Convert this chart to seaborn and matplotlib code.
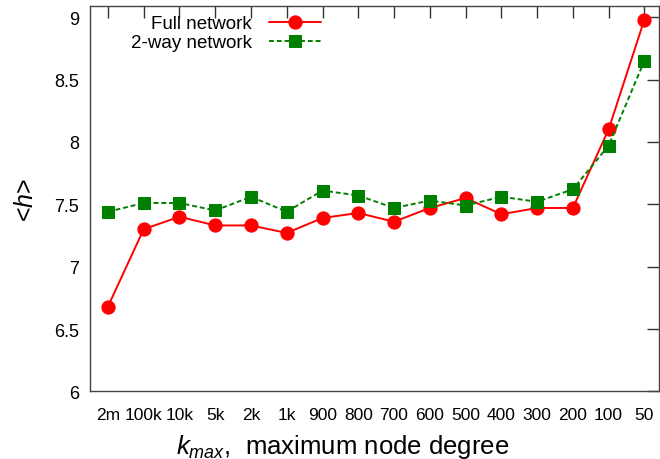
import matplotlib
matplotlib.use("Agg")
import matplotlib.pyplot as plt
import seaborn as sns
import pandas as pd
import numpy as np

categories = ["2m", "100k", "10k", "5k", "2k", "1k", "900", "800", "700",
              "600", "500", "400", "300", "200", "100", "50"]
full_network = [6.68, 7.30, 7.40, 7.33, 7.33, 7.27, 7.39, 7.43, 7.36,
                7.47, 7.55, 7.42, 7.47, 7.47, 8.10, 8.98]
two_way_network = [7.44, 7.51, 7.51, 7.45, 7.56, 7.44, 7.61, 7.57, 7.47,
                   7.53, 7.49, 7.56, 7.52, 7.62, 7.97, 8.65]
y_ticks = [6, 6.5, 7, 7.5, 8, 8.5, 9]

sns.set_style("white")
plt.rcParams['font.family'] = ['Liberation Sans', 'DejaVu Sans']
plt.rcParams['mathtext.fontset'] = 'custom'
plt.rcParams['mathtext.it'] = 'Liberation Sans:italic'
plt.rcParams['mathtext.rm'] = 'Liberation Sans'
plt.rcParams['text.color'] = 'black'
plt.rcParams['axes.labelcolor'] = 'black'
plt.rcParams['xtick.color'] = 'black'
plt.rcParams['ytick.color'] = 'black'

idx = np.arange(len(categories))
df = pd.DataFrame({
    "x": np.concatenate([idx, idx]),
    "y": full_network + two_way_network,
    "series": ["Full network"] * len(idx) + ["2-way network"] * len(idx),
})

fig, ax = plt.subplots(figsize=(6.6, 4.6), dpi=100)
fig.subplots_adjust(left=0.137, right=0.998, top=0.985, bottom=0.147)

sns.lineplot(data=df[df.series == "Full network"], x="x", y="y", ax=ax,
             color="#ff0000", marker="o", markersize=9.5, linewidth=1.4,
             markeredgecolor="#ff0000", label="Full network", sort=False)
sns.lineplot(data=df[df.series == "2-way network"], x="x", y="y", ax=ax,
             color="#008000", marker="s", markersize=9, linewidth=1.4,
             linestyle=(0, (2.5, 1.5)), markeredgecolor="#008000",
             label="2-way network", sort=False)

ax.set_xlim(-0.49, 15.4)
ax.set_ylim(6, 9.09)
ax.set_xticks(idx)
ax.set_xticklabels(categories)
ax.set_yticks(y_ticks)
ax.set_yticklabels([f"{v:g}" for v in y_ticks])
ax.tick_params(direction="in", length=8.5, width=1, top=True, right=True,
               labelsize=13, color="#333333", pad=8)
ax.tick_params(axis="x", labelsize=12.5, pad=11)
for s in ax.spines.values():
    s.set_color("#444444")
    s.set_linewidth(1)

ax.set_xlabel(r"$k_{max}$,  maximum node degree", fontsize=18.5)
ax.xaxis.set_label_coords(0.444, -0.105)
ax.set_ylabel(r"<$h$>", fontsize=18, labelpad=12)

leg = ax.legend(loc="upper left", bbox_to_anchor=(0.048, 1.01), frameon=False,
                markerfirst=False, fontsize=13.5, handlelength=2.8,
                handletextpad=0.9, labelspacing=0.1, borderaxespad=0.3)
for t in leg.get_texts():
    t.set_ha("right")
leg._legend_box.align = "right"
vp = leg._legend_box._children[1]
for c in vp._children:
    c.align = "right"

fig.savefig("out.png", dpi=100)
